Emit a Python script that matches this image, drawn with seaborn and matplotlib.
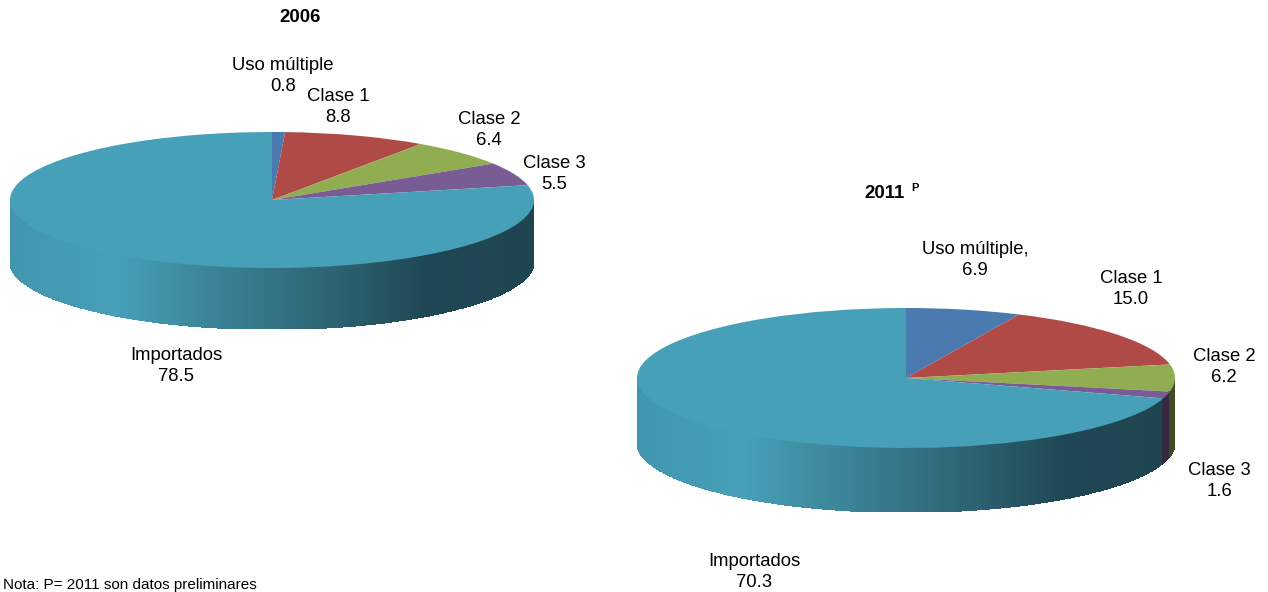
import numpy as np
import seaborn as sns
import matplotlib.pyplot as plt
from matplotlib.colors import to_rgb

sns.set_theme(style='white')
plt.rcParams['font.family'] = ['Liberation Sans', 'DejaVu Sans']

W, H = 1268, 592

# ---------------- DATA ----------------
values_2006 = [0.8, 8.8, 6.4, 5.5, 78.5]
values_2011 = [6.9, 15.0, 6.2, 1.6, 70.3]
names_2006 = ['Uso múltiple', 'Clase 1', 'Clase 2', 'Clase 3', 'Importados']
names_2011 = ['Uso múltiple,', 'Clase 1', 'Clase 2', 'Clase 3', 'Importados']
colors = ['#4a7ab0', '#b04a46', '#90ad52', '#7a5c94', '#46a0b8']
wall_stops = ['#4196ae', '#46a0b8', '#3b8296', '#2e6676', '#1f4753', '#1f4550']
note = 'Nota: P= 2011 son datos preliminares'

gradient = sns.blend_palette(wall_stops, as_cmap=True)
base = np.array(to_rgb(colors[-1]))


def draw_pie(values, cx, cy, a, b, depth):
    """Flattened pie with a shaded side wall, all in pixel placement."""
    ax = fig.add_axes([(cx - a) / W, 1 - (cy + b + depth) / H, 2 * a / W, (2 * b + depth) / H])
    ax.pie(values, colors=colors, startangle=90, counterclock=False, radius=1,
           wedgeprops=dict(linewidth=0))
    ax.set_aspect('auto')
    ax.set_xlim(-1, 1)
    ax.set_ylim(-1 - depth / b, 1)
    ax.axis('off')

    # side wall: front half of the rim, coloured by the slice above it
    t = np.linspace(np.pi, 2 * np.pi, 501)
    x = np.cos(t)
    y = np.sin(t)
    X = np.vstack([x, x])
    Y = np.vstack([y, y - depth / b])
    tm = (t[:-1] + t[1:]) / 2
    pct = ((90 - np.degrees(tm)) % 360) / 360 * sum(values)
    idx = np.minimum(np.searchsorted(np.cumsum(values), pct), len(values) - 1)
    shade = np.array(gradient((np.cos(tm) + 1) / 2))[:, :3] / base
    rgb = np.clip(np.array([to_rgb(colors[i]) for i in idx]) * shade, 0, 1)
    ax.pcolormesh(X, Y, rgb[np.newaxis, :, :], shading='flat', zorder=0,
                  edgecolors='face', linewidth=0.3)
    return ax


def label(ax, x, y, txt, **kw):
    ax.text(x, y, txt, ha='center', va='center', fontsize=13.3, color='black',
            linespacing=1.36, **kw)


fig = plt.figure(figsize=(W / 100, H / 100), dpi=100)

draw_pie(values_2006, 272, 200, 262, 68, 61)
draw_pie(values_2011, 906, 378, 269, 70, 64)

# overlay in pixel coordinates for titles and labels
txt = fig.add_axes([0, 0, 1, 1])
txt.set_xlim(0, W)
txt.set_ylim(H, 0)
txt.axis('off')
txt.patch.set_alpha(0)

pos_2006 = [(283, 76), (338, 107), (489, 130), (554, 174), (176, 366)]
pos_2011 = [(975, 260), (1131, 289), (1224, 367), (1219, 481), (754, 572)]

for name, v, (px, py) in zip(names_2006, values_2006, pos_2006):
    label(txt, px, py, f'{name}\n{v:.1f}')
for name, v, (px, py) in zip(names_2011, values_2011, pos_2011):
    label(txt, px, py, f'{name}\n{v:.1f}')

txt.text(300, 18, '2006', ha='center', va='center', fontsize=13.4, fontweight='bold', color='black')
txt.text(864, 194, '2011', ha='left', va='center', fontsize=13.4, fontweight='bold', color='black')
txt.text(911, 188, 'P', ha='left', va='center', fontsize=8, fontweight='bold', color='black')
txt.text(3, 589, note, ha='left', va='baseline', fontsize=11, color='black')

plt.savefig('out.png', dpi=100)
